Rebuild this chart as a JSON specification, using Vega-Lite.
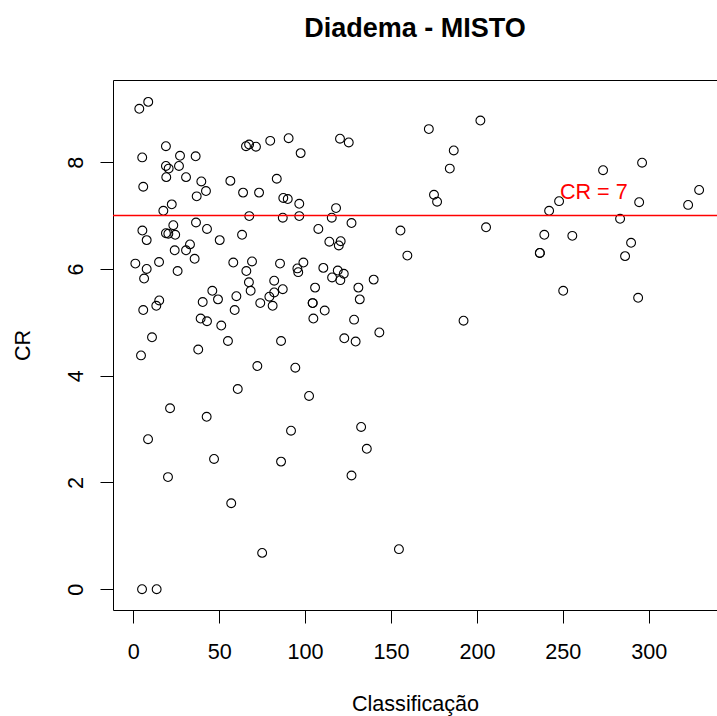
{
  "$schema": "https://vega.github.io/schema/vega-lite/v6.json",
  "autosize": {"type": "none"},
  "padding": {"left": 113, "top": 80, "right": 0, "bottom": 106},
  "width": 604,
  "height": 530,
  "background": "white",
  "title": {
    "text": "Diadema - MISTO",
    "font": "Liberation Sans",
    "fontSize": 27,
    "fontWeight": "bold",
    "color": "black",
    "anchor": "middle",
    "frame": "group",
    "baseline": "alphabetic",
    "offset": 16
  },
  "config": {
    "view": {"stroke": null},
    "axis": {
      "grid": false,
      "domainColor": "black",
      "domainWidth": 1,
      "tickColor": "black",
      "tickWidth": 1,
      "tickSize": 13,
      "labelColor": "black",
      "titleColor": "black",
      "labelFont": "Liberation Sans",
      "titleFont": "Liberation Sans",
      "labelFontSize": 21.6,
      "titleFontSize": 21.6,
      "titleFontWeight": "normal"
    }
  },
  "data": {
    "values": [
      {"Classificacao": 1.2, "CR": 6.10}, {"Classificacao": 3.5, "CR": 9.00}, {"Classificacao": 8.7, "CR": 9.13},
      {"Classificacao": 5.2, "CR": 8.09}, {"Classificacao": 5.8, "CR": 7.54}, {"Classificacao": 5.3, "CR": 6.72},
      {"Classificacao": 7.8, "CR": 6.54}, {"Classificacao": 7.8, "CR": 6.00}, {"Classificacao": 6.3, "CR": 5.82},
      {"Classificacao": 5.8, "CR": 5.23}, {"Classificacao": 4.5, "CR": 4.38}, {"Classificacao": 10.9, "CR": 4.72},
      {"Classificacao": 8.6, "CR": 2.81}, {"Classificacao": 5.1, "CR": 0}, {"Classificacao": 13.6, "CR": 0},
      {"Classificacao": 13.4, "CR": 5.31}, {"Classificacao": 15.1, "CR": 5.41}, {"Classificacao": 15.0, "CR": 6.13},
      {"Classificacao": 17.5, "CR": 7.09}, {"Classificacao": 19.0, "CR": 8.30}, {"Classificacao": 19.0, "CR": 7.93},
      {"Classificacao": 20.6, "CR": 7.88}, {"Classificacao": 19.2, "CR": 7.72}, {"Classificacao": 19.0, "CR": 6.67},
      {"Classificacao": 20.4, "CR": 6.66}, {"Classificacao": 22.4, "CR": 7.21}, {"Classificacao": 23.3, "CR": 6.82},
      {"Classificacao": 24.4, "CR": 6.64}, {"Classificacao": 24.1, "CR": 6.35}, {"Classificacao": 25.8, "CR": 5.96},
      {"Classificacao": 26.6, "CR": 7.93}, {"Classificacao": 27.2, "CR": 8.12}, {"Classificacao": 30.7, "CR": 7.72},
      {"Classificacao": 30.7, "CR": 6.35}, {"Classificacao": 33.0, "CR": 6.46}, {"Classificacao": 35.7, "CR": 6.19},
      {"Classificacao": 36.3, "CR": 8.11}, {"Classificacao": 36.9, "CR": 7.36}, {"Classificacao": 39.6, "CR": 7.64},
      {"Classificacao": 42.3, "CR": 7.46}, {"Classificacao": 42.9, "CR": 6.75}, {"Classificacao": 36.5, "CR": 6.87},
      {"Classificacao": 37.8, "CR": 4.49}, {"Classificacao": 39.2, "CR": 5.07}, {"Classificacao": 40.4, "CR": 5.38},
      {"Classificacao": 42.9, "CR": 5.02}, {"Classificacao": 46.0, "CR": 5.59}, {"Classificacao": 49.3, "CR": 5.43},
      {"Classificacao": 51.2, "CR": 4.94}, {"Classificacao": 50.3, "CR": 6.54}, {"Classificacao": 55.1, "CR": 4.65},
      {"Classificacao": 42.7, "CR": 3.23}, {"Classificacao": 47.0, "CR": 2.44}, {"Classificacao": 21.4, "CR": 3.39},
      {"Classificacao": 20.2, "CR": 2.10}, {"Classificacao": 56.5, "CR": 7.65}, {"Classificacao": 58.2, "CR": 6.12},
      {"Classificacao": 60.0, "CR": 5.49}, {"Classificacao": 59.0, "CR": 5.23}, {"Classificacao": 60.8, "CR": 3.75},
      {"Classificacao": 57.0, "CR": 1.61}, {"Classificacao": 63.3, "CR": 6.64}, {"Classificacao": 63.9, "CR": 7.43},
      {"Classificacao": 65.6, "CR": 8.30}, {"Classificacao": 67.4, "CR": 8.33}, {"Classificacao": 71.4, "CR": 8.29},
      {"Classificacao": 67.5, "CR": 6.99}, {"Classificacao": 65.8, "CR": 5.96}, {"Classificacao": 67.3, "CR": 5.75},
      {"Classificacao": 68.3, "CR": 5.59}, {"Classificacao": 69.1, "CR": 6.14}, {"Classificacao": 73.2, "CR": 7.43},
      {"Classificacao": 72.2, "CR": 4.18}, {"Classificacao": 73.9, "CR": 5.36}, {"Classificacao": 75.0, "CR": 0.68},
      {"Classificacao": 79.2, "CR": 5.48}, {"Classificacao": 79.7, "CR": 8.40}, {"Classificacao": 81.1, "CR": 5.31},
      {"Classificacao": 82.0, "CR": 5.78}, {"Classificacao": 82.0, "CR": 5.56}, {"Classificacao": 83.5, "CR": 7.69},
      {"Classificacao": 85.4, "CR": 6.10}, {"Classificacao": 87.0, "CR": 6.96}, {"Classificacao": 87.0, "CR": 5.62},
      {"Classificacao": 86.0, "CR": 4.65}, {"Classificacao": 86.0, "CR": 2.39}, {"Classificacao": 87.3, "CR": 7.33},
      {"Classificacao": 89.9, "CR": 7.31}, {"Classificacao": 90.4, "CR": 8.45}, {"Classificacao": 91.8, "CR": 2.97},
      {"Classificacao": 94.3, "CR": 4.15}, {"Classificacao": 95.5, "CR": 6.01}, {"Classificacao": 96.0, "CR": 5.94},
      {"Classificacao": 96.6, "CR": 7.22}, {"Classificacao": 96.6, "CR": 6.99}, {"Classificacao": 97.4, "CR": 8.17},
      {"Classificacao": 99.0, "CR": 6.12}, {"Classificacao": 102.3, "CR": 3.62}, {"Classificacao": 104.4, "CR": 5.36},
      {"Classificacao": 104.4, "CR": 5.36}, {"Classificacao": 105.8, "CR": 5.65}, {"Classificacao": 104.8, "CR": 5.07},
      {"Classificacao": 107.7, "CR": 6.75}, {"Classificacao": 110.6, "CR": 6.02}, {"Classificacao": 111.4, "CR": 5.22},
      {"Classificacao": 114.1, "CR": 6.51}, {"Classificacao": 115.5, "CR": 6.96}, {"Classificacao": 118.0, "CR": 7.14},
      {"Classificacao": 115.7, "CR": 5.84}, {"Classificacao": 119.0, "CR": 5.97}, {"Classificacao": 120.5, "CR": 5.79},
      {"Classificacao": 120.7, "CR": 6.52}, {"Classificacao": 119.6, "CR": 6.44}, {"Classificacao": 122.5, "CR": 5.91},
      {"Classificacao": 120.3, "CR": 8.44}, {"Classificacao": 125.4, "CR": 8.37}, {"Classificacao": 127.0, "CR": 6.86},
      {"Classificacao": 122.8, "CR": 4.70}, {"Classificacao": 127.0, "CR": 2.13}, {"Classificacao": 128.5, "CR": 5.05},
      {"Classificacao": 129.4, "CR": 4.64}, {"Classificacao": 131.0, "CR": 5.65}, {"Classificacao": 131.8, "CR": 5.43},
      {"Classificacao": 132.6, "CR": 3.04}, {"Classificacao": 135.9, "CR": 2.63}, {"Classificacao": 139.9, "CR": 5.80},
      {"Classificacao": 143.2, "CR": 4.81}, {"Classificacao": 155.5, "CR": 6.72}, {"Classificacao": 154.6, "CR": 0.75},
      {"Classificacao": 159.5, "CR": 6.25}, {"Classificacao": 172.0, "CR": 8.62}, {"Classificacao": 175.0, "CR": 7.39},
      {"Classificacao": 176.8, "CR": 7.26}, {"Classificacao": 184.2, "CR": 7.88}, {"Classificacao": 186.5, "CR": 8.22},
      {"Classificacao": 192.2, "CR": 5.03}, {"Classificacao": 202.0, "CR": 8.78}, {"Classificacao": 205.3, "CR": 6.78},
      {"Classificacao": 236.6, "CR": 6.30}, {"Classificacao": 236.6, "CR": 6.30}, {"Classificacao": 239.2, "CR": 6.64},
      {"Classificacao": 242.0, "CR": 7.09}, {"Classificacao": 247.8, "CR": 7.27}, {"Classificacao": 250.2, "CR": 5.59},
      {"Classificacao": 255.5, "CR": 6.62}, {"Classificacao": 273.4, "CR": 7.85}, {"Classificacao": 283.3, "CR": 6.94},
      {"Classificacao": 286.2, "CR": 6.24}, {"Classificacao": 289.7, "CR": 6.49}, {"Classificacao": 293.8, "CR": 5.46},
      {"Classificacao": 294.4, "CR": 7.25}, {"Classificacao": 296.1, "CR": 7.99}, {"Classificacao": 322.9, "CR": 7.20},
      {"Classificacao": 329.3, "CR": 7.48}
    ]
  },
  "layer": [
    {
      "mark": {"type": "point", "shape": "circle", "filled": false, "color": "black", "size": 78, "strokeWidth": 1.1, "opacity": 1},
      "encoding": {
        "x": {
          "field": "Classificacao", "type": "quantitative", "title": "Classificação",
          "scale": {"domain": [-11.8, 339.7], "nice": false, "zero": false},
          "axis": {"orient": "bottom", "values": [0, 50, 100, 150, 200, 250, 300], "labelBaseline": "alphabetic", "labelPadding": 35, "titleBaseline": "alphabetic", "titlePadding": 48, "labelFlush": false}
        },
        "y": {
          "field": "CR", "type": "quantitative", "title": "CR",
          "scale": {"domain": [-0.39, 9.54], "nice": false, "zero": false},
          "axis": {"values": [0, 2, 4, 6, 8], "labelAngle": 270, "labelAlign": "center", "labelBaseline": "alphabetic", "labelPadding": 18, "titleBaseline": "alphabetic", "titlePadding": 36, "labelFlush": false}
        }
      }
    },
    {
      "data": {"values": [{}]},
      "mark": {"type": "rule", "color": "#FF0000", "strokeWidth": 1.5},
      "encoding": {
        "y": {"datum": 7, "type": "quantitative", "title": "CR"}
      }
    },
    {
      "data": {"values": [{}]},
      "mark": {"type": "text", "text": "CR = 7", "color": "#FF0000", "font": "Liberation Sans", "fontSize": 21.6, "align": "center", "baseline": "middle"},
      "encoding": {
        "x": {"datum": 268, "type": "quantitative", "title": null,
          "axis": {"orient": "top", "labels": false, "ticks": false, "title": null, "domain": true}},
        "y": {"datum": 7.42, "type": "quantitative", "title": "CR"}
      }
    }
  ],
  "resolve": {"axis": {"x": "independent"}}
}
